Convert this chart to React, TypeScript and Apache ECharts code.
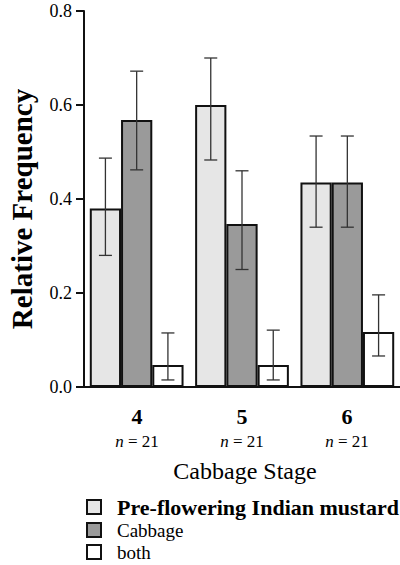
import React, { useEffect, useRef } from "react";
import * as echarts from "echarts";

const categories = ["4", "5", "6"];
const sampleLabels = ["n = 21", "n = 21", "n = 21"];
const seriesNames = ["Pre-flowering Indian mustard", "Cabbage", "both"];
const seriesColors = ["#e6e6e6", "#9a9a9a", "#ffffff"];

const mustardValues = [0.38, 0.6, 0.435];
const mustardLow = [0.28, 0.483, 0.34];
const mustardHigh = [0.487, 0.7, 0.534];

const cabbageValues = [0.568, 0.347, 0.435];
const cabbageLow = [0.462, 0.25, 0.34];
const cabbageHigh = [0.672, 0.46, 0.534];

const bothValues = [0.047, 0.047, 0.117];
const bothLow = [0.015, 0.015, 0.066];
const bothHigh = [0.115, 0.121, 0.196];

const yTicks = [0, 0.2, 0.4, 0.6, 0.8];
const yTickLabels = ["0.0", "0.2", "0.4", "0.6", "0.8"];
const xTitle = "Cabbage Stage";
const yTitle = "Relative Frequency";

const SERIF = "Liberation Serif";
const CAT_GAP = 0.11;

export default function App() {
  const ref = useRef<HTMLDivElement>(null);

  useEffect(() => {
    if (!ref.current) return;
    const chart = echarts.init(ref.current, null, { renderer: "svg" });

    const values = [mustardValues, cabbageValues, bothValues];
    const lows = [mustardLow, cabbageLow, bothLow];
    const highs = [mustardHigh, cabbageHigh, bothHigh];

    const errData: any[] = [];
    for (let s = 0; s < 3; s++) {
      for (let c = 0; c < categories.length; c++) {
        errData.push([c, lows[s][c], highs[s][c], s]);
      }
    }

    const barSeries = seriesNames.map((name, i) => ({
      name,
      type: "bar",
      data: values[i],
      barGap: "0%",
      barCategoryGap: CAT_GAP * 100 + "%",
      itemStyle: {
        color: seriesColors[i],
        borderColor: "#111",
        borderWidth: 2,
      },
      z: 2,
    }));

    const option: any = {
      animation: false,
      grid: { left: 84, right: 0, top: 11, bottom: 178, containLabel: false },
      xAxis: {
        type: "category",
        data: categories,
        axisLine: { lineStyle: { color: "#111", width: 2 } },
        axisTick: { alignWithLabel: true, length: 8, lineStyle: { color: "#111", width: 2 } },
        axisLabel: { show: false },
      },
      yAxis: {
        type: "value",
        min: 0,
        max: 0.8,
        interval: 0.2,
        splitLine: { show: false },
        axisLine: { show: true, lineStyle: { color: "#111", width: 2 } },
        axisTick: { show: true, length: 8, lineStyle: { color: "#111", width: 2 } },
        axisLabel: { show: false },
      },
      series: [
        ...barSeries,
        {
          type: "custom",
          name: "error",
          z: 5,
          data: errData,
          encode: { x: 0, y: [1, 2] },
          renderItem: (params: any, api: any) => {
            const c = api.value(0);
            const lo = api.value(1);
            const hi = api.value(2);
            const s = api.value(3);
            const pLo = api.coord([c, lo]);
            const pHi = api.coord([c, hi]);
            const band = api.size([1, 0])[0];
            const groupW = band * (1 - CAT_GAP);
            const barW = groupW / 3;
            const x = pLo[0] - groupW / 2 + barW * (s + 0.5);
            const cap = 6.5;
            const style = { stroke: "#333", lineWidth: 1.3 };
            return {
              type: "group",
              children: [
                { type: "line", shape: { x1: x, y1: pLo[1], x2: x, y2: pHi[1] }, style },
                { type: "line", shape: { x1: x - cap, y1: pHi[1], x2: x + cap, y2: pHi[1] }, style },
                { type: "line", shape: { x1: x - cap, y1: pLo[1], x2: x + cap, y2: pLo[1] }, style },
              ],
            };
          },
        },
      ],
    };

    chart.setOption(option);

    const g: any[] = [];
    yTicks.forEach((v, i) => {
      const py = chart.convertToPixel({ yAxisIndex: 0 }, v) as number;
      g.push({
        type: "text",
        x: 72,
        y: Math.round(py),
        style: {
          text: yTickLabels[i],
          fontFamily: SERIF,
          fontWeight: 400,
          fontSize: 18,
          fill: "#000",
          align: "right",
          verticalAlign: "middle",
        },
      });
    });
    categories.forEach((c, i) => {
      const px = chart.convertToPixel({ xAxisIndex: 0 }, i) as number;
      g.push({
        type: "text",
        x: Math.round(px),
        y: 416,
        style: {
          text: c,
          fontFamily: SERIF,
          fontWeight: "bold",
          fontSize: 22,
          fill: "#000",
          align: "center",
          verticalAlign: "middle",
        },
      });
      const s = sampleLabels[i];
      g.push({
        type: "text",
        x: Math.round(px),
        y: 441,
        style: {
          text: `{n|n}{s|${s.slice(1)}}`,
          rich: {
            n: { fontFamily: SERIF, fontStyle: "italic", fontWeight: 400, fontSize: 17, fill: "#000" },
            s: { fontFamily: SERIF, fontWeight: 400, fontSize: 17, fill: "#000" },
          },
          align: "center",
          verticalAlign: "middle",
        },
      });
    });
    const x0 = chart.convertToPixel({ xAxisIndex: 0 }, 0) as number;
    const x2 = chart.convertToPixel({ xAxisIndex: 0 }, 2) as number;
    g.push({
      type: "text",
      x: Math.round((x0 + x2) / 2 + 3),
      y: 471,
      style: {
        text: xTitle,
        fontFamily: SERIF,
        fontWeight: 400,
        fontSize: 24,
        fill: "#000",
        align: "center",
        verticalAlign: "middle",
      },
    });
    const y0 = chart.convertToPixel({ yAxisIndex: 0 }, 0) as number;
    const y8 = chart.convertToPixel({ yAxisIndex: 0 }, 0.8) as number;
    g.push({
      type: "text",
      x: 22,
      y: Math.round((y0 + y8) / 2 + 10),
      rotation: Math.PI / 2,
      style: {
        text: yTitle,
        fontFamily: SERIF,
        fontWeight: "bold",
        fontSize: 29,
        fill: "#000",
        align: "center",
        verticalAlign: "middle",
      },
    });
    const rowY = [507, 530, 552];
    seriesNames.forEach((name, i) => {
      g.push({
        type: "rect",
        shape: { x: 87, y: rowY[i] - 7, width: 14, height: 14 },
        style: { fill: seriesColors[i], stroke: "#111", lineWidth: 2 },
      });
      g.push({
        type: "text",
        x: 117,
        y: rowY[i],
        style: {
          text: name,
          fontFamily: SERIF,
          fontWeight: i === 0 ? "bold" : 400,
          fontSize: i === 0 ? 22 : 19,
          fill: "#000",
          align: "left",
          verticalAlign: "middle",
        },
      });
    });

    chart.setOption({ graphic: g });
    return () => chart.dispose();
  }, []);

  return (
    <div
      ref={ref}
      style={{ position: "absolute", left: 0, top: 0, width: 400, height: 565, fontFamily: SERIF }}
    />
  );
}
